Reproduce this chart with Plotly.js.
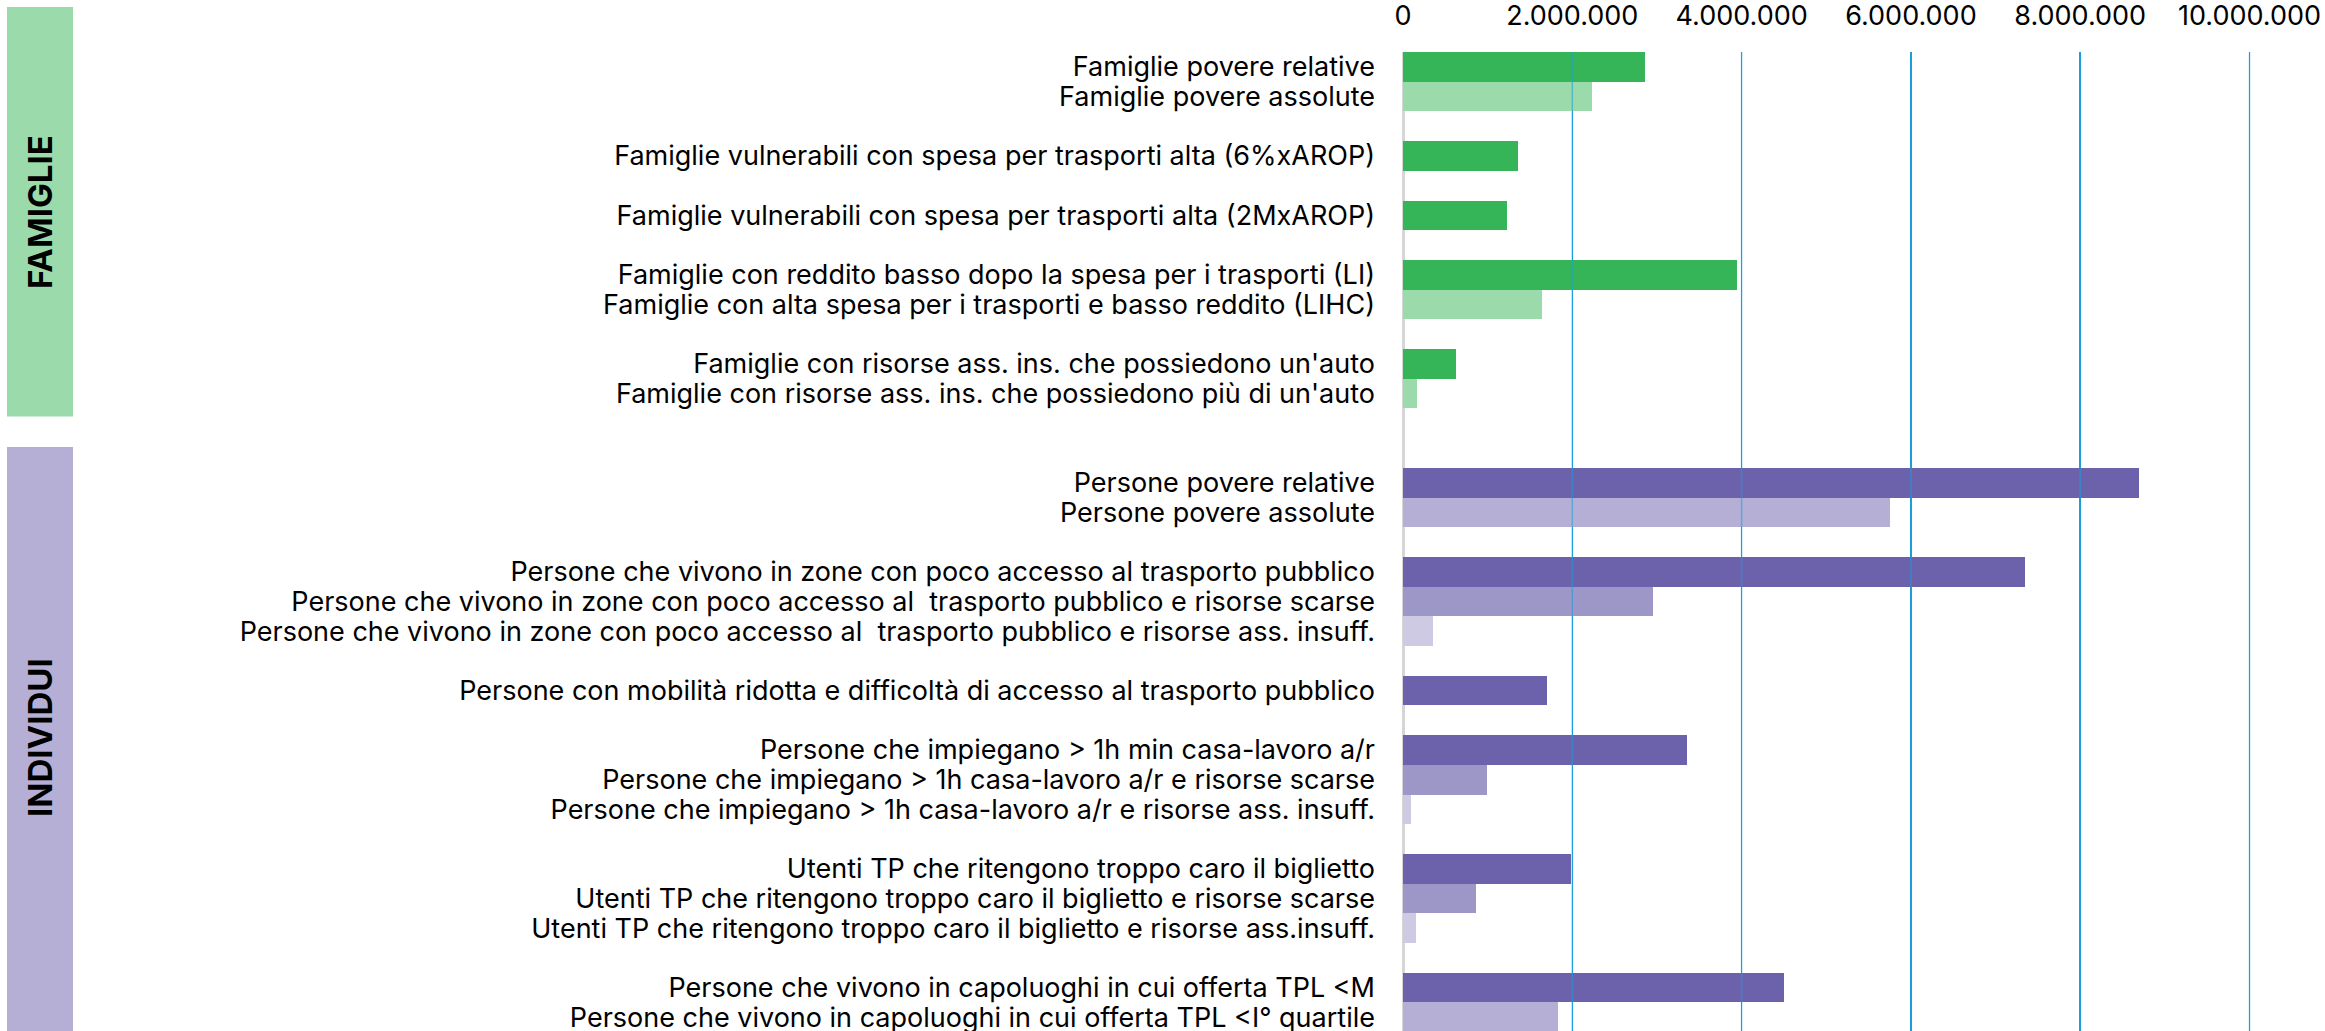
<!DOCTYPE html>
<html>
<head>
<meta charset="utf-8">
<script src="https://cdn.plot.ly/plotly-3.0.1.min.js"></script>
<style>html,body{margin:0;padding:0;background:#fff;overflow:hidden}</style>
</head>
<body>
<div id="chart" style="width:2325px;height:1031px"></div>
<script>
// ---- DATA ----
const famiglieLabels = [
  "Famiglie povere relative",
  "Famiglie povere assolute",
  "Famiglie vulnerabili con spesa per trasporti alta (6%xAROP)",
  "Famiglie vulnerabili con spesa per trasporti alta (2MxAROP)",
  "Famiglie con reddito basso dopo la spesa per i trasporti (LI)",
  "Famiglie con alta spesa per i trasporti e basso reddito (LIHC)",
  "Famiglie con risorse ass. ins. che possiedono un'auto",
  "Famiglie con risorse ass. ins. che possiedono più di un'auto"
];
const famiglieValues = [2860000, 2230000, 1360000, 1230000, 3950000, 1640000, 630000, 160000];
const famiglieGroupSizes = [2, 1, 1, 2, 2];

const individuiLabels = [
  "Persone povere relative",
  "Persone povere assolute",
  "Persone che vivono in zone con poco accesso al trasporto pubblico",
  "Persone che vivono in zone con poco accesso al  trasporto pubblico e risorse scarse",
  "Persone che vivono in zone con poco accesso al  trasporto pubblico e risorse ass. insuff.",
  "Persone con mobilità ridotta e difficoltà di accesso al trasporto pubblico",
  "Persone che impiegano > 1h min casa-lavoro a/r",
  "Persone che impiegano > 1h casa-lavoro a/r e risorse scarse",
  "Persone che impiegano > 1h casa-lavoro a/r e risorse ass. insuff.",
  "Utenti TP che ritengono troppo caro il biglietto",
  "Utenti TP che ritengono troppo caro il biglietto e risorse scarse",
  "Utenti TP che ritengono troppo caro il biglietto e risorse ass.insuff.",
  "Persone che vivono in capoluoghi in cui offerta TPL &lt;M",
  "Persone che vivono in capoluoghi in cui offerta TPL &lt;I° quartile"
];
const individuiValues = [8700000, 5750000, 7350000, 2950000, 360000, 1700000, 3350000, 990000, 100000, 1990000, 860000, 150000, 4500000, 1830000];
const individuiGroupSizes = [2, 3, 1, 3, 3, 2];

const xTickValues = [0, 2000000, 4000000, 6000000, 8000000, 10000000];
const sectionNames = ["FAMIGLIE", "INDIVIDUI"];

// ---- STYLE ----
const famColors = { 2: ["#35b558", "#9bdaab"], 1: ["#35b558"] };
const indColors = { 1: ["#6c62ab"], 2: ["#6c62ab", "#b5afd5"], 3: ["#6c62ab", "#9d97c8", "#cecae3"] };
const FONT = "Inter, 'Liberation Sans', Arial, sans-serif";

// ---- BUILD ----
const ys = [], xs = [], cols = [], tickv = [], tickt = [];
let slot = 0;
function addSection(labels, values, groups, palette) {
  let k = 0;
  groups.forEach(g => {
    for (let j = 0; j < g; j++) {
      ys.push(slot); xs.push(values[k]); cols.push(palette[g][j]);
      tickv.push(slot); tickt.push(labels[k]);
      slot++; k++;
    }
    slot++;
  });
}
addSection(famiglieLabels, famiglieValues, famiglieGroupSizes, famColors);
slot++;
addSection(individuiLabels, individuiValues, individuiGroupSizes, indColors);

const W = 2325, H = 1031;
const mL = 1403, mR = 67, mT = 52, mB = 0;
const plotH = H - mT - mB;
const slotPx = 29.7;
const yBottom = -0.5 + plotH / slotPx;

const pxToPaperX = px => (px - mL) / (W - mL - mR);
const pxToPaperY = py => 1 - (py - mT) / plotH;

const shapes = [
  { type: "rect", xref: "paper", yref: "paper", x0: pxToPaperX(7), x1: pxToPaperX(73), y0: pxToPaperY(7), y1: pxToPaperY(416.5), fillcolor: "#9bdaab", line: { width: 0 }, layer: "below" },
  { type: "rect", xref: "paper", yref: "paper", x0: pxToPaperX(7), x1: pxToPaperX(73), y0: pxToPaperY(447), y1: pxToPaperY(1040), fillcolor: "#b5afd5", line: { width: 0 }, layer: "below" }
];
xTickValues.filter(v => v > 0).forEach(v => {
  shapes.push({ type: "line", xref: "x", yref: "paper", x0: v, x1: v, y0: 0, y1: 1, line: { color: "rgba(26,159,219,0.55)", width: 1.5 }, layer: "above" });
});

const annotations = [
  { text: "<b>" + sectionNames[0] + "</b>", xref: "paper", yref: "paper", x: pxToPaperX(40), y: pxToPaperY(212), textangle: -90, showarrow: false, font: { family: FONT, size: 33, color: "#000" }, xanchor: "center", yanchor: "middle" },
  { text: "<b>" + sectionNames[1] + "</b>", xref: "paper", yref: "paper", x: pxToPaperX(40), y: pxToPaperY(738), textangle: -90, showarrow: false, font: { family: FONT, size: 33, color: "#000" }, xanchor: "center", yanchor: "middle" }
];

const trace = {
  type: "bar", orientation: "h", x: xs, y: ys, width: 1,
  marker: { color: cols, line: { width: 0 } }, hoverinfo: "none"
};

const layout = {
  width: W, height: H,
  margin: { l: mL, r: mR, t: mT, b: mB, pad: 0 },
  paper_bgcolor: "#ffffff", plot_bgcolor: "#ffffff",
  separators: ",.",
  showlegend: false,
  bargap: 0,
  xaxis: {
    side: "top", range: [0, 10100000], tickmode: "array", tickvals: xTickValues,
    tickformat: ",.0f", showgrid: true, gridcolor: "#1a9fdb", gridwidth: 1.5,
    zeroline: true, zerolinecolor: "#d6d6d6", zerolinewidth: 3, showline: false,
    ticks: "", ticklabelstandoff: 21, ticklabeloverflow: "allow",
    tickfont: { family: FONT, size: 27, color: "#000" }, fixedrange: true
  },
  yaxis: {
    range: [yBottom, -0.5], tickmode: "array", tickvals: tickv, ticktext: tickt,
    showgrid: false, zeroline: false, showline: false, ticks: "",
    ticklabelstandoff: 27, automargin: false, ticklabeloverflow: "allow",
    tickfont: { family: FONT, size: 27, color: "#000" }, fixedrange: true
  },
  shapes: shapes,
  annotations: annotations
};

Plotly.newPlot("chart", [trace], layout, { displayModeBar: false, staticPlot: true });
</script>
</body>
</html>
